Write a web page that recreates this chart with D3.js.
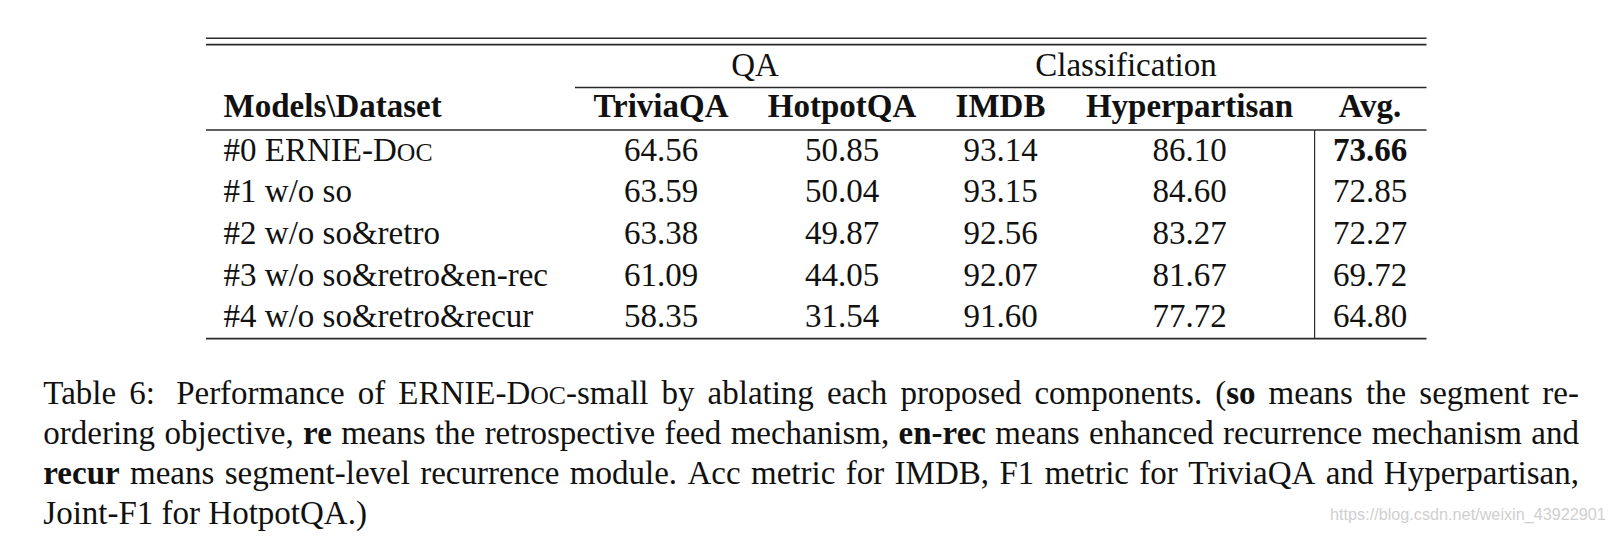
<!DOCTYPE html>
<html><head><meta charset="utf-8">
<script src="https://cdn.jsdelivr.net/npm/d3@7"></script>
<style>html,body{margin:0;padding:0;background:#fff;overflow:hidden;} svg{display:block;}</style>
</head><body>
<svg id="c" width="1616" height="536"></svg>
<script>
// ---- data ----
const columns = ["TriviaQA", "HotpotQA", "IMDB", "Hyperpartisan", "Avg."];
const groupLabels = ["QA", "Classification"];
const headerLabel = "Models\\Dataset";
const models = ["#0 ERNIE-Doc", "#1 w/o so", "#2 w/o so&retro", "#3 w/o so&retro&en-rec", "#4 w/o so&retro&recur"];
const triviaQA = [64.56, 63.59, 63.38, 61.09, 58.35];
const hotpotQA = [50.85, 50.04, 49.87, 44.05, 31.54];
const imdb = [93.14, 93.15, 92.56, 92.07, 91.60];
const hyperpartisan = [86.10, 84.60, 83.27, 81.67, 77.72];
const avg = [73.66, 72.85, 72.27, 69.72, 64.80];
const bestAvg = 73.66;
// caption: [text, style] runs; style: "n" normal, "b" bold, "sc" small caps
const captionLines = [
  [["Table 6:\u00a0 Performance of ERNIE-D","n"],["OC","sc"],["-small by ablating each proposed components. (","n"],["so","b"],[" means the segment re-","n"]],
  [["ordering objective, ","n"],["re","b"],[" means the retrospective feed mechanism, ","n"],["en-rec","b"],[" means enhanced recurrence mechanism and","n"]],
  [["recur","b"],[" means segment-level recurrence module. Acc metric for IMDB, F1 metric for TriviaQA and Hyperpartisan,","n"]],
  [["Joint-F1 for HotpotQA.)","n"]]
];
const watermark = "https://blog.csdn.net/weixin_43922901";

// ---- layout ----
const FONT = "'Liberation Serif','Times New Roman',Times,serif";
const FS = 33;
const ink = "#111";
const ruleColor = "#2a2a2a";
const svg = d3.select("#c");

const x = d3.scaleOrdinal().domain(columns).range([661, 842, 1000.5, 1189.5, 1370]);
const y = d3.scalePoint().domain(models).range([160.5, 327.2]);
const gx = d3.scaleOrdinal().domain(groupLabels).range([755, 1126]);

const tableLeft = 206, tableRight = 1426.5;

function rule(x1, x2, yy, w) {
  svg.append("line").attr("x1", x1).attr("x2", x2).attr("y1", yy).attr("y2", yy)
    .attr("stroke", ruleColor).attr("stroke-width", w);
}
rule(tableLeft, tableRight, 38.3, 1.6);
rule(tableLeft, tableRight, 44.6, 1.6);
rule(575, tableRight, 87.5, 1.3);
rule(tableLeft, tableRight, 130, 1.4);
rule(tableLeft, tableRight, 338.6, 1.6);
svg.append("line").attr("x1", 1314.6).attr("x2", 1314.6).attr("y1", 130).attr("y2", 338.6)
  .attr("stroke", ruleColor).attr("stroke-width", 1.2);

const g = svg.append("g").attr("font-family", FONT).attr("font-size", FS).attr("fill", ink);

// group labels
g.selectAll("text.grp").data(groupLabels).join("text").attr("class", "grp")
  .attr("x", d => gx(d)).attr("y", 75.5).attr("text-anchor", "middle").text(d => d);

// header
g.append("text").attr("x", 223.6).attr("y", 117).attr("font-weight", "bold").text(headerLabel);
g.selectAll("text.col").data(columns).join("text").attr("class", "col")
  .attr("x", d => x(d)).attr("y", 117).attr("text-anchor", "middle").attr("font-weight", "bold").text(d => d);

// model names (with small caps for "Doc")
models.forEach(m => {
  const t = g.append("text").attr("x", 223.6).attr("y", y(m));
  if (m.endsWith("Doc")) {
    t.append("tspan").text(m.slice(0, -2));
    t.append("tspan").attr("font-size", FS * 0.78).text("OC");
  } else t.text(m);
});

// values
const series = [triviaQA, hotpotQA, imdb, hyperpartisan, avg];
series.forEach((vals, ci) => {
  const col = columns[ci];
  g.selectAll("text.v" + ci).data(vals).join("text").attr("class", "v" + ci)
    .attr("x", x(col)).attr("y", (d, i) => y(models[i]))
    .attr("text-anchor", "middle")
    .attr("font-weight", d => (ci === 4 && d === bestAvg) ? "bold" : null)
    .text(d => d.toFixed(2));
});

// caption (justified)
const capLeft = 43.3, capRight = 1579, capY0 = 403.5, capLH = 40;
captionLines.forEach((runs, li) => {
  const words = [];
  let cur = [];
  runs.forEach(([txt, st]) => {
    const parts = txt.split(" ");
    parts.forEach((p, pi) => {
      if (pi > 0) { words.push(cur); cur = []; }
      if (p.length) cur.push([p, st]);
    });
  });
  words.push(cur);
  const ws = words.filter(w => w.length);
  const yy = capY0 + li * capLH;
  const nodes = ws.map(w => {
    const t = g.append("text").attr("y", yy);
    w.forEach(([p, st]) => {
      const s = t.append("tspan").text(p);
      if (st === "b") s.attr("font-weight", "bold");
      if (st === "sc") s.attr("font-size", FS * 0.78);
    });
    return t;
  });
  const widths = nodes.map(n => n.node().getComputedTextLength());
  const total = d3.sum(widths);
  const last = li === captionLines.length - 1;
  const gap = last ? FS * 0.25 : (capRight - capLeft - total) / (nodes.length - 1);
  let cx = capLeft;
  nodes.forEach((n, i) => { n.attr("x", cx); cx += widths[i] + gap; });
});

// watermark (horizontally condensed to match)
const wm = svg.append("text").attr("x", 0).attr("y", 0)
  .attr("font-family", "'Liberation Sans',Arial,sans-serif")
  .attr("font-size", 17).attr("fill", "#cfcfcf").text(watermark);
const wmW = wm.node().getComputedTextLength();
const wmK = 276 / wmW;
wm.attr("transform", `translate(1330,520) scale(${wmK},1)`);
</script>
</body></html>
